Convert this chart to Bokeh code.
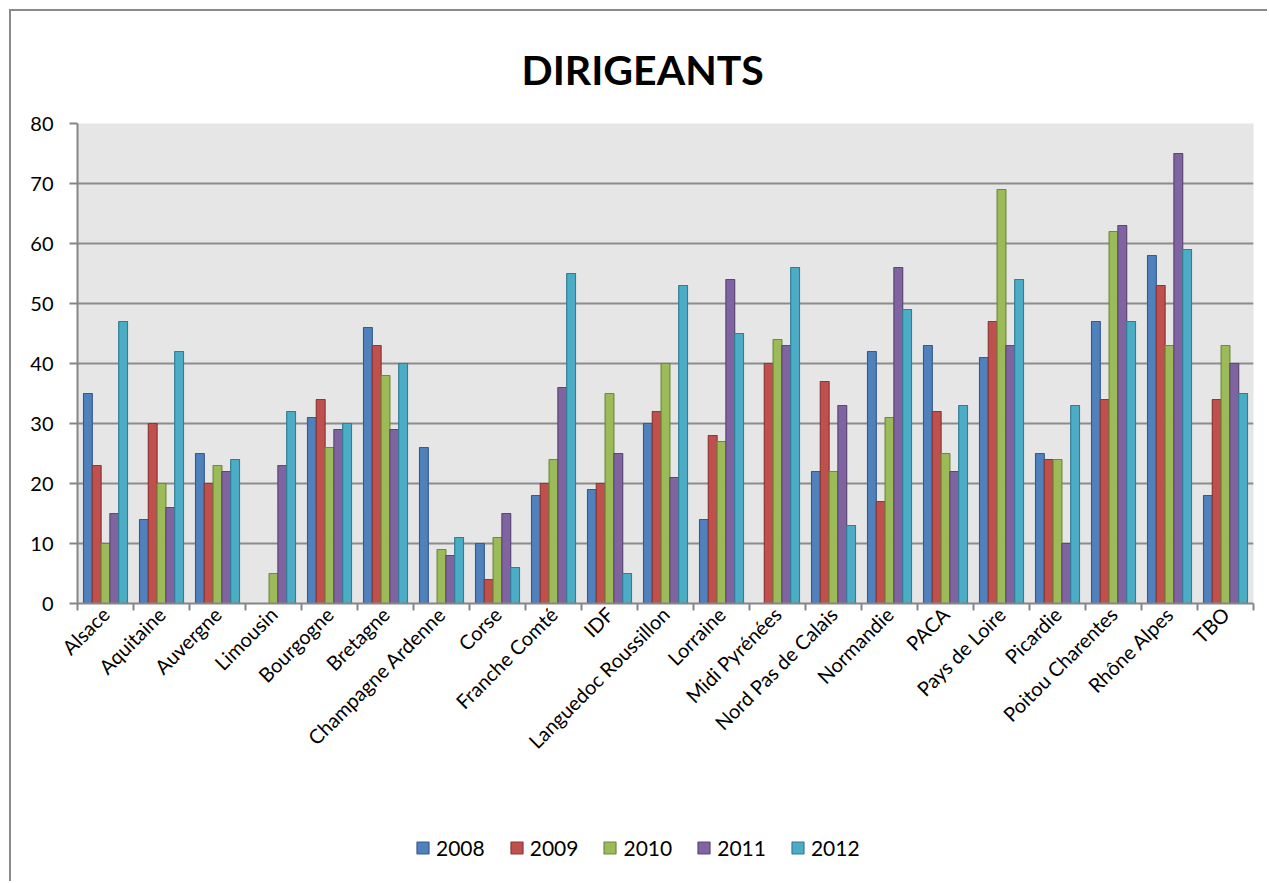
import math
from bokeh.plotting import figure
from bokeh.layouts import column
from bokeh.models import (ColumnDataSource, Range1d, LinearAxis, FixedTicker, Legend,
                          LegendItem)
from bokeh.transform import dodge
from bokeh.embed import file_html
from bokeh.resources import INLINE

regions = ["Alsace", "Aquitaine", "Auvergne", "Limousin", "Bourgogne", "Bretagne",
           "Champagne Ardenne", "Corse", "Franche Comté", "IDF", "Languedoc Roussillon",
           "Lorraine", "Midi Pyrénées", "Nord Pas de Calais", "Normandie", "PACA",
           "Pays de Loire", "Picardie", "Poitou Charentes", "Rhône Alpes", "TBO"]
years = ["2008", "2009", "2010", "2011", "2012"]
v2008 = [35, 14, 25, 0, 31, 46, 26, 10, 18, 19, 30, 14, 0, 22, 42, 43, 41, 25, 47, 58, 18]
v2009 = [23, 30, 20, 0, 34, 43, 0, 4, 20, 20, 32, 28, 40, 37, 17, 32, 47, 24, 34, 53, 34]
v2010 = [10, 20, 23, 5, 26, 38, 9, 11, 24, 35, 40, 27, 44, 22, 31, 25, 69, 24, 62, 43, 43]
v2011 = [15, 16, 22, 23, 29, 29, 8, 15, 36, 25, 21, 54, 43, 33, 56, 22, 43, 10, 63, 75, 40]
v2012 = [47, 42, 24, 32, 30, 40, 11, 6, 55, 5, 53, 45, 56, 13, 49, 33, 54, 33, 47, 59, 35]
y_ticks = [0, 10, 20, 30, 40, 50, 60, 70, 80]

fills = ["#4F81BD", "#C0504D", "#9BBB59", "#8064A2", "#4BACC6"]
borders = ["#385D8A", "#8C3836", "#71893F", "#5C4776", "#357D91"]

FONT = "Lato"

n = len(regions)
centers = [i + 0.5 for i in range(n)]
src = ColumnDataSource(dict(pos=centers, region=regions, v2008=v2008, v2009=v2009,
                            v2010=v2010, v2011=v2011, v2012=v2012))

p = figure(x_range=Range1d(0, n), y_range=Range1d(0, 80),
           width=1256, height=762, output_backend="svg", toolbar_location=None,
           x_axis_location=None, min_border_left=66, min_border_right=14,
           min_border_top=112, min_border_bottom=170)
p.background_fill_color = "#e6e6e6"
p.border_fill_color = "white"
p.outline_line_color = None

p.title.text = "DIRIGEANTS"
p.title.text_font = FONT
p.title.text_font_size = "41px"
p.title.text_font_style = "bold"
p.title.text_color = "black"
p.title.align = "left"
p.title.offset = 444
p.title.standoff = 59

bw = 0.157
offsets = [-2 * bw, -bw, 0, bw, 2 * bw]
for i, yr in enumerate(years):
    p.vbar(x=dodge("pos", offsets[i]), top="v" + yr, width=bw,
           source=src, fill_color=fills[i], line_color=borders[i], line_width=1.2)

# y axis
ya = p.yaxis[0]
ya.ticker = FixedTicker(ticks=y_ticks)
ya.axis_line_color = "#868686"
ya.axis_line_width = 2
ya.major_tick_line_color = "#868686"
ya.major_tick_line_width = 2
ya.major_tick_in = 0
ya.major_tick_out = 8
ya.minor_tick_line_color = None
ya.major_label_text_font = FONT
ya.major_label_text_font_size = "20px"
ya.major_label_text_color = "black"
ya.major_label_standoff = 16

p.xgrid.grid_line_color = None
p.ygrid.ticker = FixedTicker(ticks=y_ticks)
p.ygrid.grid_line_color = "#8c8c8c"
p.ygrid.grid_line_width = 2

# boundary tick axis (ticks between categories)
bounds = list(range(n + 1))
ta = LinearAxis(ticker=FixedTicker(ticks=bounds),
                major_label_overrides={b: "" for b in bounds})
ta.axis_line_color = "#868686"
ta.axis_line_width = 2
ta.major_tick_line_color = "#868686"
ta.major_tick_line_width = 2
ta.major_tick_in = 0
ta.major_tick_out = 7
ta.minor_tick_line_color = None
ta.major_label_standoff = 0
p.add_layout(ta, "below")

# category labels axis
ca = LinearAxis(ticker=FixedTicker(ticks=centers),
                major_label_overrides={c: r for c, r in zip(centers, regions)})
ca.axis_line_color = None
ca.major_tick_line_color = None
ca.minor_tick_line_color = None
ca.major_tick_out = 0
ca.major_tick_in = 0
ca.major_label_orientation = math.pi / 4
ca.major_label_text_font = FONT
ca.major_label_text_font_size = "20px"
ca.major_label_text_color = "black"
ca.major_label_standoff = 0
p.add_layout(ca, "below")

# legend strip below the chart; its proxy bars lie outside this strip's view
lp = figure(width=1256, height=108, output_backend="svg", toolbar_location=None,
            x_range=Range1d(0, n), y_range=Range1d(100, 101), min_border=0,
            x_axis_location=None, y_axis_location=None)
lp.outline_line_color = None
lp.grid.visible = False
lp.background_fill_color = "white"
lp.border_fill_color = "white"
items = []
for i, yr in enumerate(years):
    r = lp.vbar(x="pos", top="v" + yr, width=bw, source=src,
                fill_color=fills[i], line_color=borders[i], line_width=1.2)
    items.append(LegendItem(label=yr, renderers=[r]))
legend = Legend(items=items, orientation="horizontal", location=(338, 21),
                label_text_font=FONT, label_text_font_size="21px",
                label_text_color="black",
                glyph_width=15, glyph_height=15, label_standoff=6, spacing=24,
                background_fill_alpha=0, border_line_color=None, padding=0, margin=0)
lp.add_layout(legend, "center")

layout = column(p, lp, spacing=0)
layout.styles = {"border-left": "2px solid #8a8a8a", "border-top": "2px solid #8a8a8a",
                 "margin-left": "9px", "margin-top": "9px"}

open("out.html", "w").write(file_html(layout, INLINE))
